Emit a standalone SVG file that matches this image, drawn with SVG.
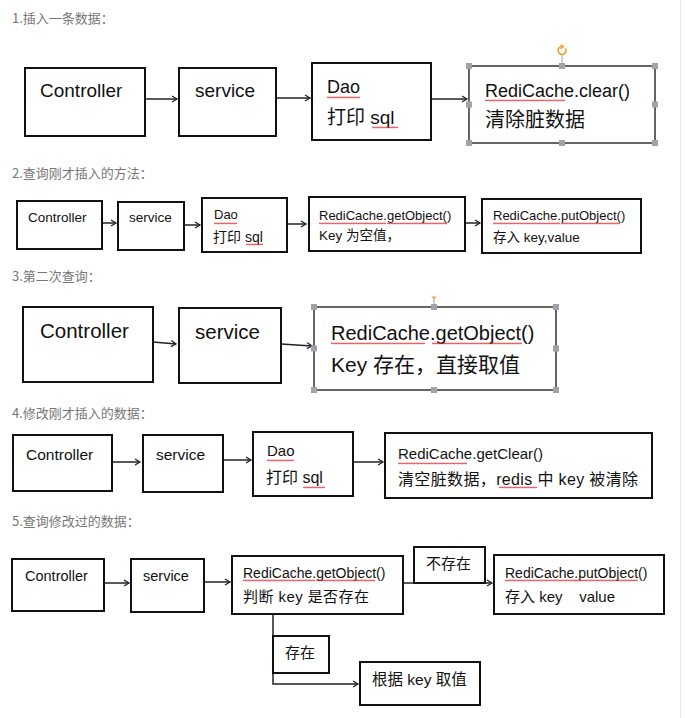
<svg xmlns="http://www.w3.org/2000/svg" width="685" height="718" viewBox="0 0 685 718">
<defs>
<marker id="ah" markerWidth="8" markerHeight="8" refX="6" refY="4" orient="auto" markerUnits="userSpaceOnUse">
<path d="M1,1 L6,4 L1,7" fill="none" stroke="#222" stroke-width="1.3"/>
</marker>
<pattern id="sq" width="4" height="3" patternUnits="userSpaceOnUse">
<path d="M0,2.3 L1,0.7 L2,2.3 L3,0.7 L4,2.3" fill="none" stroke="#e02020" stroke-width="0.7"/>
</pattern>
<style>
.t{font-family:"Liberation Sans","Noto Sans CJK SC",sans-serif;fill:#111}
.h{font-family:"Noto Sans CJK SC","Liberation Sans",sans-serif;fill:#777;font-size:13px}
.b{fill:#fff;stroke:#111;stroke-width:2}
.bt{fill:#fff;stroke:#333;stroke-width:1.5}
.c{fill:none;stroke:#222;stroke-width:1.5}
.hd{fill:#a0a3a8}
.sq{fill:url(#sq)}
</style>
</defs>
<rect width="685" height="718" fill="#fff"/>
<line x1="680.5" y1="0" x2="680.5" y2="718" stroke="#e6e6e6" stroke-width="1"/>

<!-- titles -->
<text class="h" x="12" y="23">1.插入一条数据：</text>
<text class="h" x="12" y="178">2.查询刚才插入的方法：</text>
<text class="h" x="12" y="281">3.第二次查询：</text>
<text class="h" x="12" y="418">4.修改刚才插入的数据：</text>
<text class="h" x="12" y="526">5.查询修改过的数据：</text>

<!-- connectors -->
<g id="connectors">
<line class="c" x1="145" y1="99" x2="177" y2="99" marker-end="url(#ah)"/>
<line class="c" x1="276" y1="98" x2="310" y2="98" marker-end="url(#ah)"/>
<line class="c" x1="431" y1="99" x2="467" y2="99" marker-end="url(#ah)"/>

<line class="c" x1="102" y1="223" x2="116" y2="223" marker-end="url(#ah)"/>
<line class="c" x1="184" y1="225" x2="200" y2="225" marker-end="url(#ah)"/>
<line class="c" x1="287" y1="224" x2="306" y2="224" marker-end="url(#ah)"/>
<line class="c" x1="465" y1="223" x2="480" y2="223" marker-end="url(#ah)"/>

<line class="c" x1="153" y1="342" x2="176" y2="344" marker-end="url(#ah)"/>
<line class="c" x1="281" y1="344" x2="312" y2="346" marker-end="url(#ah)"/>

<line class="c" x1="112" y1="462" x2="140" y2="462" marker-end="url(#ah)"/>
<line class="c" x1="223" y1="460" x2="251" y2="460" marker-end="url(#ah)"/>
<line class="c" x1="353" y1="462" x2="383" y2="462" marker-end="url(#ah)"/>

<line class="c" x1="104" y1="583" x2="129" y2="583" marker-end="url(#ah)"/>
<line class="c" x1="204" y1="582" x2="230" y2="582" marker-end="url(#ah)"/>
<line class="c" x1="403" y1="583" x2="492" y2="583" marker-end="url(#ah)"/>
<polyline class="c" points="273,614 273,684 358,684" marker-end="url(#ah)"/>
</g>

<!-- section 1 -->
<g id="s1-controller"><rect class="b" x="25" y="68" width="120" height="68"/><text class="t" x="40" y="97" font-size="19">Controller</text></g>
<g id="s1-service"><rect class="b" x="179" y="68" width="97" height="68"/><text class="t" x="195" y="97" font-size="19">service</text></g>
<g id="s1-dao"><rect class="b" x="312" y="63" width="119" height="77"/>
<text class="t" x="327" y="93" font-size="18">Dao</text>
<text class="t" x="327" y="124" font-size="19">打印 sql</text>
<rect class="sq" x="327" y="96" width="33" height="3"/><rect class="sq" x="372" y="126" width="26" height="3"/></g>
<g id="s1-redicache"><rect class="bt" x="469" y="66" width="186" height="77"/>
<text class="t" x="485" y="97" font-size="18">RediCache.clear()</text>
<text class="t" x="485" y="127" font-size="20">清除脏数据</text>
<rect class="sq" x="485" y="99" width="80" height="3"/>
<rect class="hd" x="466" y="63" width="6" height="6"/><rect class="hd" x="559" y="63" width="6" height="6"/><rect class="hd" x="652" y="63" width="6" height="6"/>
<rect class="hd" x="466" y="101.5" width="6" height="6"/><rect class="hd" x="652" y="101.5" width="6" height="6"/>
<rect class="hd" x="466" y="140" width="6" height="6"/><rect class="hd" x="559" y="140" width="6" height="6"/><rect class="hd" x="652" y="140" width="6" height="6"/>
<path d="M565.5,48.5 A4,4 0 1 1 562,46.5" fill="none" stroke="#f0a030" stroke-width="1.6"/>
<path d="M560.5,44.5 L563.5,46.5 L560.5,49" fill="none" stroke="#f0a030" stroke-width="1.3"/>
<line x1="562" y1="55" x2="562" y2="63" stroke="#a0a3a8" stroke-width="1"/>
</g>

<!-- section 2 -->
<g id="s2-controller"><rect class="b" x="17" y="201" width="85" height="48"/><text class="t" x="28" y="222" font-size="13.5">Controller</text></g>
<g id="s2-service"><rect class="b" x="118" y="202" width="66" height="48"/><text class="t" x="129" y="222" font-size="13.5">service</text></g>
<g id="s2-dao"><rect class="b" x="202" y="198" width="85" height="54"/>
<text class="t" x="214" y="219" font-size="13">Dao</text>
<text class="t" x="213" y="242" font-size="14">打印 sql</text>
<rect class="sq" x="214" y="222" width="23" height="3"/><rect class="sq" x="246" y="243" width="17" height="3"/></g>
<g id="s2-getobject"><rect class="b" x="309" y="197" width="156" height="54"/>
<text class="t" x="319" y="220" font-size="13">RediCache.getObject()</text>
<text class="t" x="319" y="240" font-size="13.5">Key 为空值，</text>
<rect class="sq" x="319" y="222" width="67" height="3"/><rect class="sq" x="387" y="222" width="60" height="3"/></g>
<g id="s2-putobject"><rect class="b" x="482" y="199" width="159" height="54"/>
<text class="t" x="493" y="220" font-size="13">RediCache.putObject()</text>
<text class="t" x="493" y="242" font-size="13.5">存入 key,value</text>
<rect class="sq" x="493" y="222" width="67" height="3"/><rect class="sq" x="561" y="222" width="59" height="3"/></g>

<!-- section 3 -->
<g id="s3-controller"><rect class="b" x="23" y="307" width="130" height="75"/><text class="t" x="40" y="338" font-size="20.5">Controller</text></g>
<g id="s3-service"><rect class="b" x="179" y="308" width="102" height="75"/><text class="t" x="195" y="339" font-size="20.5">service</text></g>
<g id="s3-getobject"><rect class="bt" x="314" y="307" width="242" height="83"/>
<text class="t" x="331" y="340" font-size="20">RediCache.getObject()</text>
<text class="t" x="331" y="372" font-size="21">Key 存在，直接取值</text>
<rect class="sq" x="331" y="342" width="94" height="3"/><rect class="sq" x="432" y="342" width="90" height="3"/>
<rect class="hd" x="311" y="304" width="6" height="6"/><rect class="hd" x="431" y="304" width="6" height="6"/><rect class="hd" x="553" y="304" width="6" height="6"/>
<rect class="hd" x="311" y="345.5" width="6" height="6"/><rect class="hd" x="553" y="345.5" width="6" height="6"/>
<rect class="hd" x="311" y="387" width="6" height="6"/><rect class="hd" x="431" y="387" width="6" height="6"/><rect class="hd" x="553" y="387" width="6" height="6"/>
<path d="M431,296.5 L437,296.5 L434,299 Z" fill="#f0a030"/>
<line x1="434" y1="298" x2="434" y2="304" stroke="#a0a3a8" stroke-width="1"/>
</g>

<!-- section 4 -->
<g id="s4-controller"><rect class="b" x="13" y="435" width="99" height="56"/><text class="t" x="26" y="460" font-size="15.5">Controller</text></g>
<g id="s4-service"><rect class="b" x="143" y="435" width="80" height="57"/><text class="t" x="156" y="460" font-size="15.5">service</text></g>
<g id="s4-dao"><rect class="b" x="253" y="432" width="100" height="64"/>
<text class="t" x="267" y="456" font-size="15">Dao</text>
<text class="t" x="266" y="483" font-size="16">打印 sql</text>
<rect class="sq" x="267" y="459" width="27" height="3"/><rect class="sq" x="303" y="486" width="22" height="3"/></g>
<g id="s4-getclear"><rect class="b" x="385" y="433" width="267" height="65" stroke-width="2.5"/>
<text class="t" x="398" y="459" font-size="15">RediCache.getClear()</text>
<text class="t" x="398" y="485" font-size="16" textLength="240" lengthAdjust="spacing">清空脏数据，redis 中 key 被清除</text>
<rect class="sq" x="398" y="462" width="69" height="3"/><rect class="sq" x="499" y="486" width="38" height="3"/></g>

<!-- section 5 -->
<g id="s5-controller"><rect class="b" x="12" y="559" width="92" height="52"/><text class="t" x="25" y="581" font-size="14.5">Controller</text></g>
<g id="s5-service"><rect class="b" x="131" y="559" width="73" height="53"/><text class="t" x="143" y="581" font-size="14.5">service</text></g>
<g id="s5-getobject"><rect class="b" x="232" y="556" width="171" height="58"/>
<text class="t" x="243" y="578" font-size="14">RediCache.getObject()</text>
<text class="t" x="243" y="602" font-size="15" textLength="126" lengthAdjust="spacing">判断 key  是否存在</text>
<rect class="sq" x="243" y="579" width="72" height="3"/><rect class="sq" x="316" y="579" width="59" height="3"/></g>
<g id="s5-notexist"><rect class="b" x="414" y="547" width="71" height="36"/><text class="t" x="426" y="569" font-size="15">不存在</text></g>
<g id="s5-putobject"><rect class="b" x="494" y="555" width="170" height="59"/>
<text class="t" x="505" y="578" font-size="14">RediCache.putObject()</text>
<text class="t" x="505" y="602" font-size="15" xml:space="preserve">存入 key    value</text>
<rect class="sq" x="505" y="579" width="72" height="3"/><rect class="sq" x="577" y="579" width="61" height="3"/></g>
<g id="s5-exist"><rect class="b" x="273" y="636" width="56" height="37"/><text class="t" x="285" y="658" font-size="15">存在</text></g>
<g id="s5-getbykey"><rect class="b" x="360" y="662" width="120" height="43"/><text class="t" x="372" y="685" font-size="15.5">根据 key 取值</text></g>
</svg>
